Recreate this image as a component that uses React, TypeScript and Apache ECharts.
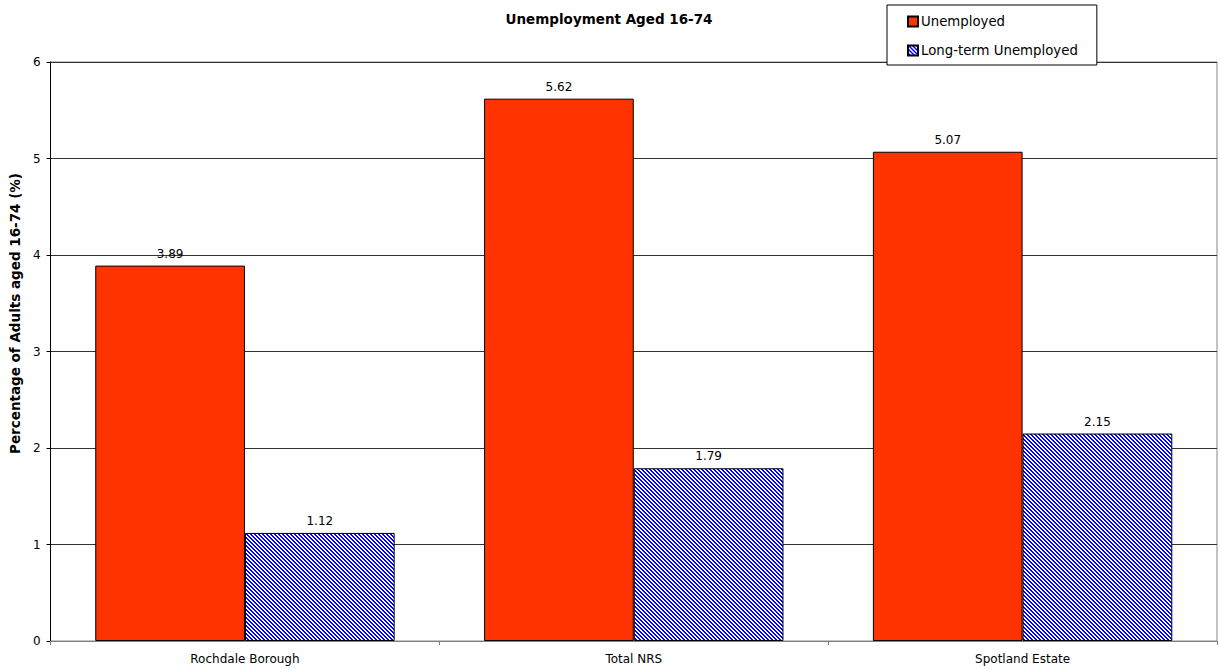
import React, { useEffect, useRef } from "react";
import * as echarts from "echarts";

const categories = ["Rochdale Borough", "Total NRS", "Spotland Estate"];
const unemployed = [3.89, 5.62, 5.07];
const longTerm = [1.12, 1.79, 2.15];
const yTicks = { min: 0, max: 6, interval: 1 };

function makeHatch(): string {
  const c = document.createElement("canvas");
  c.width = 4;
  c.height = 4;
  const ctx = c.getContext("2d")!;
  ctx.fillStyle = "#ffffff";
  ctx.fillRect(0, 0, 4, 4);
  ctx.fillStyle = "#0000ff";
  for (let y = 0; y < 4; y++) {
    for (let x = 0; x < 4; x++) {
      const d = (((x - y) % 4) + 4) % 4;
      if (d === 0 || d === 1) ctx.fillRect(x, y, 1, 1);
    }
  }
  return c.toDataURL();
}

export default function App() {
  const ref = useRef<HTMLDivElement>(null);
  useEffect(() => {
    if (!ref.current) return;
    const chart = echarts.init(ref.current, null, { renderer: "svg" });
    const hatch = { image: makeHatch(), repeat: "repeat" };
    const font = "DejaVu Sans, Verdana, sans-serif";
    chart.setOption({
      animation: false,
      backgroundColor: "#ffffff",
      textStyle: { fontFamily: font },
      title: {
        text: "Unemployment Aged 16-74",
        left: 604,
        textAlign: "center",
        top: 7,
        textStyle: { fontSize: 13.5, fontWeight: "bold", color: "#000", fontFamily: font },
      },
      legend: {
        orient: "vertical",
        left: 887,
        top: 5,
        padding: [10, 19, 8, 20],
        itemGap: 16,
        itemWidth: 10,
        itemHeight: 10,
        icon: "rect",
        borderColor: "#000",
        borderWidth: 1,
        backgroundColor: "#fff",
        textStyle: { fontSize: 13.3, color: "#000", fontFamily: font, padding: [0, 0, 0, -2] },
        data: ["Unemployed", "Long-term Unemployed"],
      },
      grid: {
        left: 48,
        right: 3,
        top: 62,
        bottom: 28,
        show: true,
        borderColor: "#888",
        borderWidth: 1,
      },
      xAxis: {
        type: "category",
        data: categories,
        axisLine: { lineStyle: { color: "#808080", width: 1 } },
        axisTick: { show: true, length: 4, lineStyle: { color: "#808080" } },
        axisLabel: { fontSize: 12, color: "#000", margin: 12, fontFamily: font },
      },
      yAxis: {
        type: "value",
        min: yTicks.min,
        max: yTicks.max,
        interval: yTicks.interval,
        name: "Percentage of Adults aged 16-74 (%)",
        nameLocation: "middle",
        nameGap: 27,
        nameTextStyle: {
          fontSize: 13.5,
          fontWeight: "bold",
          color: "#000",
          fontFamily: font,
          padding: [0, 0, 0, 76],
        },
        axisLine: { show: true, lineStyle: { color: "#000", width: 1 } },
        axisTick: { show: true, length: 4, lineStyle: { color: "#000" } },
        axisLabel: { fontSize: 12, color: "#000", margin: 10, fontFamily: font },
        splitLine: { show: true, lineStyle: { color: "#333", width: 1 } },
      },
      series: [
        {
          name: "Unemployed",
          type: "bar",
          data: unemployed,
          barGap: "0%",
          barCategoryGap: "23%",
          itemStyle: { color: "#ff3300", borderColor: "#000", borderWidth: 1 },
          label: {
            show: true,
            position: "top",
            distance: 6,
            fontSize: 12,
            color: "#000",
            fontFamily: font,
          },
        },
        {
          name: "Long-term Unemployed",
          type: "bar",
          data: longTerm,
          barGap: "0%",
          barCategoryGap: "23%",
          itemStyle: { color: hatch, borderColor: "#000", borderWidth: 1 },
          label: {
            show: true,
            position: "top",
            distance: 6,
            fontSize: 12,
            color: "#000",
            fontFamily: font,
          },
        },
      ],
    });
    return () => chart.dispose();
  }, []);
  return (
    <div
      ref={ref}
      style={{ position: "absolute", left: 0, top: 0, width: 1220, height: 669 }}
    />
  );
}
